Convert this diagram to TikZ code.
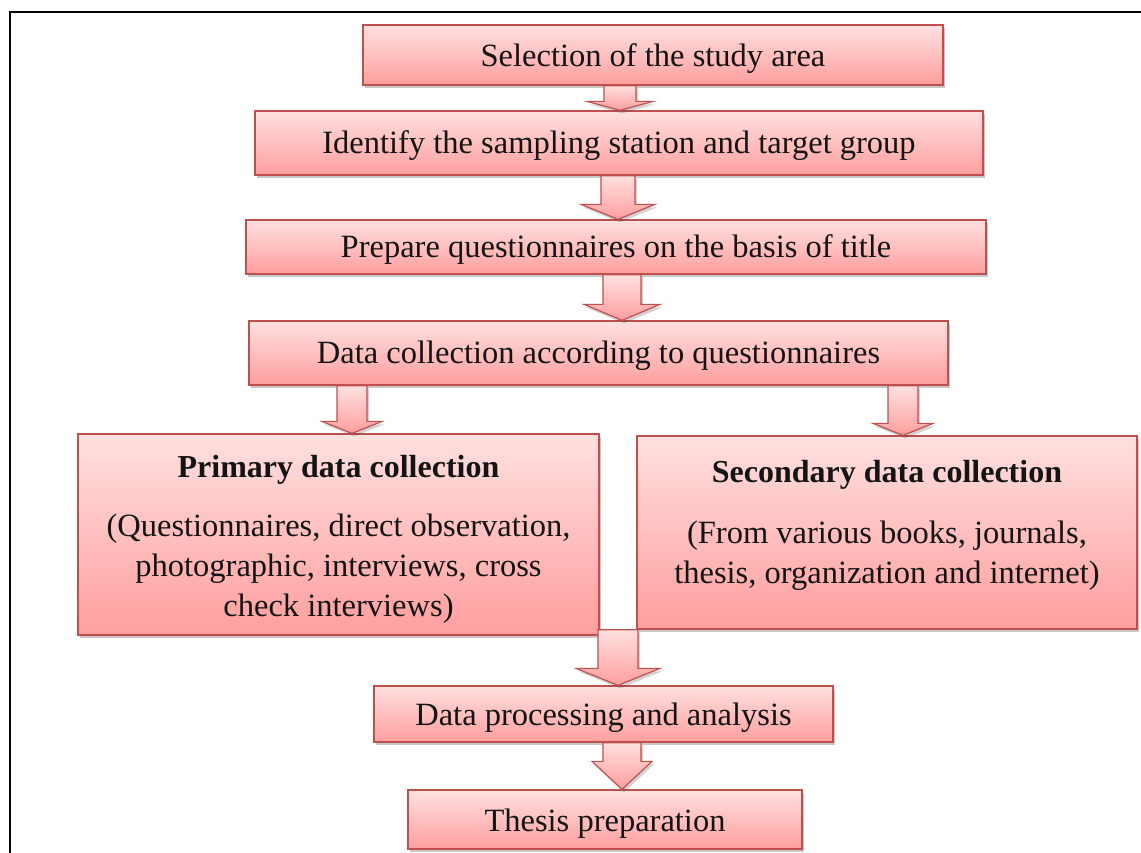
\documentclass[tikz,border=0pt]{standalone}
\usepackage{fontspec}
\setmainfont{Liberation Serif}
\usetikzlibrary{shadows,calc}
\definecolor{boxtop}{RGB}{255,224,224}
\definecolor{boxbot}{RGB}{255,158,158}
\definecolor{boxline}{RGB}{192,80,77}
\definecolor{txt}{RGB}{20,20,20}
\tikzset{
  flowbox/.style={draw=boxline, line width=1.3pt, top color=boxtop, bottom color=boxbot,
    inner sep=0pt, align=center, text=txt, font=\fontsize{32.5}{40}\selectfont,
    drop shadow={shadow xshift=2pt, shadow yshift=-3pt, opacity=0.3, fill=black!70}},
  blockarrow/.style={draw=boxline, line width=1.2pt, top color=boxtop, bottom color=boxbot,
    line join=miter,
    drop shadow={shadow xshift=2pt, shadow yshift=-3pt, opacity=0.25, fill=black!70}},
  framebox/.style={draw=black, line width=2.8pt}
}
\newcommand\low[2][-4pt]{\raisebox{#1}[\height][\depth]{#2}}
\newcommand\headline[1]{{\fontsize{32}{40}\selectfont\textbf{#1}}}
% #1 centre x, #2 start anchor, #3 end anchor, #4 head length, #5 shaft half width, #6 head half width
\newcommand\blockarr[6]{%
  \path[blockarrow] let \p1=(#2), \p2=(#3) in
    (#1pt-#5pt,\y1) -- (#1pt+#5pt,\y1) -- (#1pt+#5pt,\y2+#4pt) -- (#1pt+#6pt,\y2+#4pt)
    -- (#1pt,\y2) -- (#1pt-#6pt,\y2+#4pt) -- (#1pt-#5pt,\y2+#4pt) -- cycle;}
\begin{document}
\begin{tikzpicture}[x=1pt,y=-1pt]
\useasboundingbox (0,0) rectangle (1141,852);
\fill[white] (0,0) rectangle (1141,852);
\draw[framebox] (10,860) -- (10,12) -- (1150,12);

\node[flowbox, minimum width=580, minimum height=60] (b1) at (653,55) {\low{Selection of the study area}};
\node[flowbox, minimum width=728, minimum height=64] (b2) at (619,143) {\low[-3pt]{Identify the sampling station and target group}};
\node[flowbox, minimum width=740, minimum height=54] (b3) at (616,247) {\low[-3pt]{Prepare questionnaires on the basis of title}};
\node[flowbox, minimum width=699, minimum height=64] (b4) at (598.5,353) {\low[-3pt]{Data collection according to questionnaires}};
\node[flowbox, minimum width=521, minimum height=201] (b5) at (338.5,534.5)
  {\low{\begin{tabular}{@{}c@{}}\headline{Primary data collection}\\[19pt](Questionnaires, direct observation,\\photographic, interviews, cross\\check interviews)\end{tabular}}};
\node[flowbox, minimum width=500, minimum height=193] (b6) at (887,532.5)
  {\headline{Secondary data collection}\\[21pt](From various books, journals,\\thesis, organization and internet)\\[-18pt]\mbox{}};
\node[flowbox, minimum width=459, minimum height=56] (b7) at (603.5,714) {\low{Data processing and analysis}};
\node[flowbox, minimum width=394, minimum height=59] (b8) at (605,819.5) {\low{Thesis preparation}};

\blockarr{620}{b1.south}{b2.north}{9}{16}{33}
\blockarr{618}{b2.south}{b3.north}{15}{17}{37}
\blockarr{622}{b3.south}{b4.north}{16}{19}{38}
\blockarr{352}{b4.south}{b5.north}{12}{15}{30}
\blockarr{903}{b4.south}{b6.north}{12}{15}{30}
\blockarr{618}{b6.south}{b7.north}{17}{20}{42}
\blockarr{622}{b7.south}{b8.north}{28}{19}{30}
\end{tikzpicture}
\end{document}
